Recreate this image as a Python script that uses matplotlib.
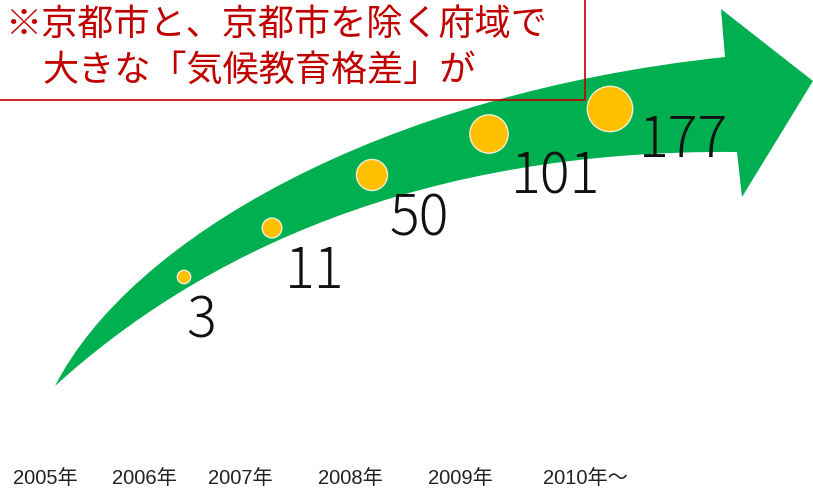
import matplotlib
matplotlib.use("Agg")
import matplotlib.pyplot as plt
from matplotlib.path import Path
from matplotlib.patches import PathPatch, Rectangle

plt.rcParams['font.family'] = ['Noto Sans CJK JP', 'DejaVu Sans']

# データ
years = ['2005年', '2006年', '2007年', '2008年', '2009年', '2010年～']
counts = [3, 11, 50, 101, 177]
title_lines = ['※京都市と、京都市を除く府域で', '大きな「気候教育格差」が']

# レイアウト（ピクセル座標）
node_x = [184, 272, 372, 489, 610]
node_y = [278, 229, 176, 135, 110]
label_x = [201, 315, 419, 556, 683]
label_base = [337, 288, 235, 193, 157]
year_x = [13, 112, 208, 318, 428, 543]

GREEN = '#00B050'
YELLOW = '#FFC000'
RED = '#C00000'

fig = plt.figure(figsize=(8.13, 4.89), dpi=100)
ax = fig.add_axes([0, 0, 1, 1])
ax.set_xlim(0, 813)
ax.set_ylim(489, 0)
ax.axis('off')

# 曲がった矢印
verts = [
    (55, 387),
    (130, 240), (380, 95), (725, 58),   # 上側の曲線
    (721, 10),
    (813, 82),
    (742, 198),
    (737, 153),
    (420, 150), (200, 255), (55, 387),  # 下側の曲線
    (55, 387),
]
codes = [Path.MOVETO,
         Path.CURVE4, Path.CURVE4, Path.CURVE4,
         Path.LINETO, Path.LINETO, Path.LINETO, Path.LINETO,
         Path.CURVE4, Path.CURVE4, Path.CURVE4,
         Path.CLOSEPOLY]
ax.add_patch(PathPatch(Path(verts, codes), facecolor=GREEN, edgecolor='none', zorder=1))

# 円（値が大きいほど大きく）
radii = [4.8 * c ** 0.3 for c in counts]
sizes = [(2 * r * 0.72) ** 2 for r in radii]
ax.scatter(node_x, node_y, s=sizes, color=YELLOW, edgecolors='#F5EED8',
           linewidths=1, zorder=3)

for x, yb, c in zip(label_x, label_base, counts):
    ax.text(x, yb, str(c), fontsize=40, color='#111111', fontweight='light',
            ha='center', va='baseline', zorder=4)

# 年ラベル
for x, lab in zip(year_x, years):
    ax.text(x, 484, lab, fontsize=14.5, color='#222222', ha='left', va='baseline',
            family=['Liberation Sans', 'Noto Sans CJK JP'])

# タイトル枠
ax.add_patch(Rectangle((-5, -5), 590, 106, facecolor='none', edgecolor=RED,
                       linewidth=1.2, zorder=5))
ax.text(5, 25, title_lines[0], fontsize=26, color=RED, ha='left', va='center', zorder=6)
ax.text(42, 71, title_lines[1], fontsize=26, color=RED, ha='left', va='center', zorder=6)

plt.savefig('out.png', dpi=100)
